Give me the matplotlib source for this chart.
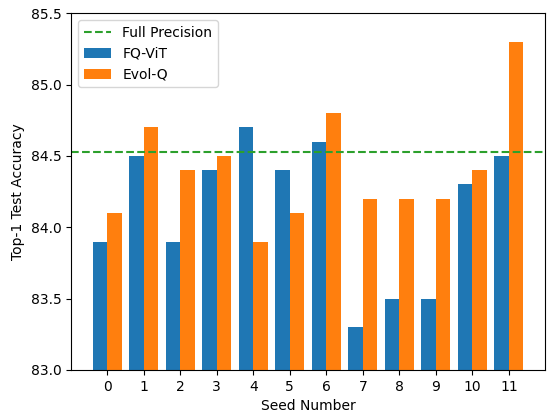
import numpy as np
import matplotlib.pyplot as plt

seeds = list(range(12))
fq_vit = [83.9, 84.5, 83.9, 84.4, 84.7, 84.4, 84.6, 83.3, 83.5, 83.5, 84.3, 84.5]
evol_q = [84.1, 84.7, 84.4, 84.5, 83.9, 84.1, 84.8, 84.2, 84.2, 84.2, 84.4, 85.3]
full_precision = 84.53

x = np.arange(len(seeds))
width = 0.4

fig, ax = plt.subplots(figsize=(5.55, 4.12), dpi=100)
ax.axhline(full_precision, color='tab:green', linestyle='--', label='Full Precision')
ax.bar(x - width/2, fq_vit, width, label='FQ-ViT')
ax.bar(x + width/2, evol_q, width, label='Evol-Q')

ax.set_ylim(83.0, 85.5)
ax.set_xticks(x)
ax.set_xticklabels([str(s) for s in seeds])
ax.set_xlabel('Seed Number')
ax.set_ylabel('Top-1 Test Accuracy')
ax.legend(loc='upper left')

fig.subplots_adjust(left=0.128, right=0.982, top=0.968, bottom=0.102)
plt.savefig('out.png', dpi=100)
